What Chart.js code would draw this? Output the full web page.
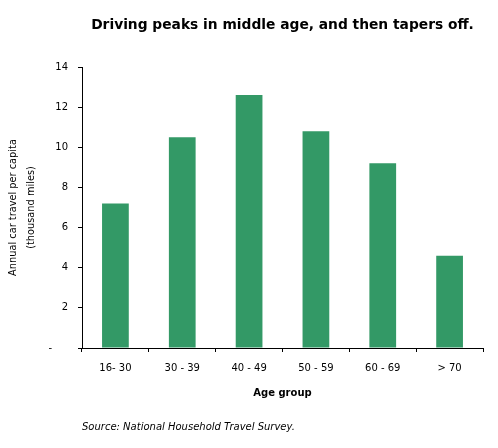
<!DOCTYPE html>
<html>
<head>
<meta charset="utf-8">
<style>
  html, body { margin: 0; padding: 0; background: #ffffff; }
  #wrap { width: 498px; height: 448px; }
</style>
<script src="https://cdn.jsdelivr.net/npm/chart.js@4.4.0/dist/chart.umd.min.js"></script>
</head>
<body>
<div id="wrap"><canvas id="c" width="498" height="448"></canvas></div>
<script>
const categories = ['16- 30', '30 - 39', '40 - 49', '50 - 59', '60 - 69', '> 70'];
const travelValues = [7.2, 10.5, 12.6, 10.8, 9.2, 4.6];
const yTickValues = [0, 2, 4, 6, 8, 10, 12, 14];
const titleText = 'Driving peaks in middle age, and then tapers off.';
const yTitleLines = ['Annual car travel per capita', '(thousand miles)'];
const xTitleText = 'Age group';
const sourceText = 'Source: National Household Travel Survey.';

const FONT = "'DejaVu Sans', Verdana, sans-serif";

new Chart(document.getElementById('c'), {
  type: 'bar',
  data: {
    labels: categories,
    datasets: [{
      data: travelValues,
      backgroundColor: '#339966',
      borderWidth: 0,
      barPercentage: 0.4,
      categoryPercentage: 1.0
    }]
  },
  options: {
    responsive: false,
    animation: false,
    devicePixelRatio: 1,
    layout: { padding: { left: 0, right: 15, top: 0, bottom: 0 } },
    plugins: {
      legend: { display: false },
      tooltip: { enabled: false },
      title: {
        display: true,
        text: titleText,
        fullSize: false,
        color: '#000000',
        font: { family: FONT, size: 13.8, weight: 'bold', lineHeight: 1.2 },
        padding: { top: 17, bottom: 33.44 }
      },
      subtitle: {
        display: true,
        text: sourceText,
        position: 'bottom',
        align: 'start',
        fullSize: false,
        color: '#000000',
        font: { family: FONT, size: 10, style: 'italic', lineHeight: 1.2 },
        padding: { top: 13.5, bottom: 14.5 }
      }
    },
    scales: {
      x: {
        type: 'category',
        offset: true,
        grid: {
          offset: true,
          drawOnChartArea: false,
          drawTicks: true,
          tickLength: 4,
          color: '#000000'
        },
        border: { display: true, color: '#000000', width: 1 },
        ticks: {
          color: '#000000',
          font: { family: FONT, size: 10 },
          padding: 10,
          maxRotation: 0,
          autoSkip: false
        },
        title: {
          display: true,
          text: xTitleText,
          color: '#000000',
          font: { family: FONT, size: 10, weight: 'bold', lineHeight: 1.2 },
          padding: { top: 4, bottom: 8.5 }
        },
        afterFit: (scale) => { scale.height = 60; }
      },
      y: {
        min: 0,
        max: 14,
        afterBuildTicks: (scale) => { scale.ticks = yTickValues.map(v => ({ value: v })); },
        grid: {
          drawOnChartArea: false,
          drawTicks: true,
          tickLength: 4,
          color: '#000000'
        },
        border: { display: true, color: '#000000', width: 1 },
        ticks: {
          color: '#000000',
          font: { family: FONT, size: 10 },
          padding: 10,
          callback: (v) => (v === 0 ? '-     ' : String(v))
        },
        title: {
          display: true,
          text: yTitleLines,
          color: '#000000',
          font: { family: FONT, size: 9.8, lineHeight: 1.85 },
          padding: { top: 4, bottom: 0 }
        },
        afterFit: (scale) => { scale.width = 82; }
      }
    }
  }
});
</script>
</body>
</html>
